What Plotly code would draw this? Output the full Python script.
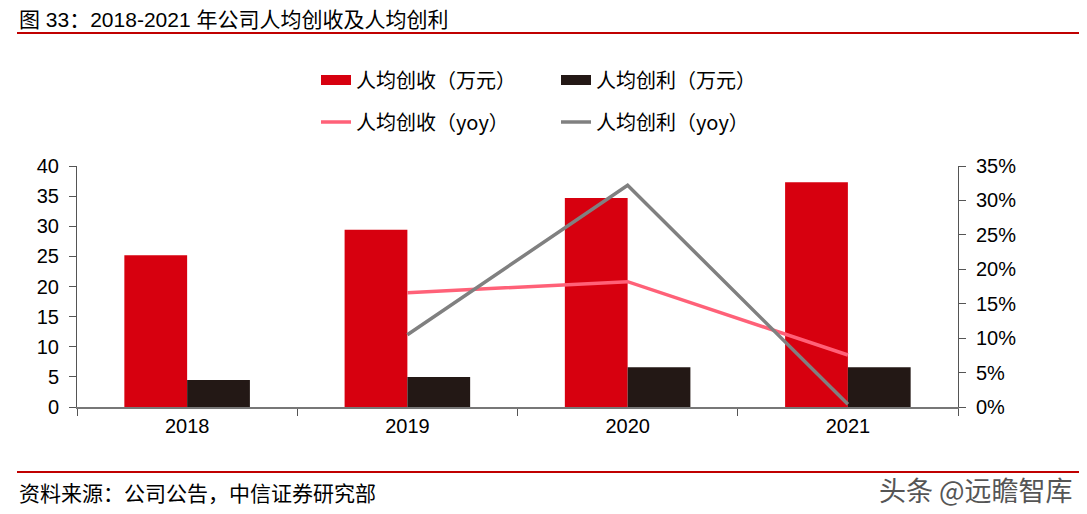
import plotly.graph_objects as go

years = ["2018", "2019", "2020", "2021"]
rev_per_cap = [25.2, 29.4, 34.7, 37.3]        # 人均创收（万元）
profit_per_cap = [4.5, 5.0, 6.6, 6.6]         # 人均创利（万元）
rev_yoy = [None, 0.166, 0.182, 0.0755]        # 人均创收（yoy）
profit_yoy = [None, 0.105, 0.322, 0.004]      # 人均创利（yoy）
left_ticks = [0, 5, 10, 15, 20, 25, 30, 35, 40]
right_ticks = [0, 0.05, 0.10, 0.15, 0.20, 0.25, 0.30, 0.35]

# page body has an 8px margin; figure is placed at (8, 8) in the window
OFF = 8
WIN_W, WIN_H = 1087, 514
PL, PR, PT, PB = 77, 958, 166, 407          # plot area in window pixels
W, H = WIN_W - OFF, WIN_H - OFF
L, R, T, B = PL - OFF, WIN_W - PR, PT - OFF, WIN_H - PB
pw, ph = PR - PL, PB - PT

def px(x):
    return (x - PL) / pw

def py(y):
    return (PB - y) / ph

FONT = "Liberation Sans, Arial, Noto Sans CJK SC, sans-serif"
CJK = "Noto Sans CJK SC, Liberation Sans, sans-serif"
RED, BLACK, PINK, GREY = "#D7000F", "#231815", "#FF6178", "#808080"

fig = go.Figure()
fig.add_trace(go.Bar(x=years, y=rev_per_cap, name="人均创收（万元）", showlegend=False,
                     marker=dict(color=RED, line=dict(width=0))))
fig.add_trace(go.Bar(x=years, y=profit_per_cap, name="人均创利（万元）", showlegend=False,
                     marker=dict(color=BLACK, line=dict(width=0))))
fig.add_trace(go.Scatter(x=years, y=rev_yoy, name="人均创收（yoy）", mode="lines",
                         line=dict(color=PINK, width=3.5), yaxis="y2", legend="legend2"))
fig.add_trace(go.Scatter(x=years, y=profit_yoy, name="人均创利（yoy）", mode="lines",
                         line=dict(color=GREY, width=3.5), yaxis="y2", legend="legend2"))
# legend entries for the bars (wide rectangular swatches)
fig.add_trace(go.Scatter(x=[None], y=[None], name="人均创收（万元）", mode="lines",
                         line=dict(color=RED, width=14), legend="legend"))
fig.add_trace(go.Scatter(x=[None], y=[None], name="人均创利（万元）", mode="lines",
                         line=dict(color=BLACK, width=14), legend="legend"))

axis_common = dict(showgrid=False, zeroline=False, showline=True, linecolor="#555555",
                   linewidth=1, ticks="outside", ticklen=7, tickcolor="#555555",
                   ticklabelstandoff=6,
                   tickfont=dict(family=FONT, size=20, color="#000000"))

legend_common = dict(orientation="h", xanchor="left", yanchor="middle",
                     entrywidth=195, entrywidthmode="pixels",
                     font=dict(family=CJK, size=20, color="#000000"),
                     bgcolor="rgba(0,0,0,0)", traceorder="normal")

fig.update_layout(
    width=W, height=H,
    margin=dict(l=L, r=R, t=T, b=B, pad=0),
    paper_bgcolor="white", plot_bgcolor="white",
    barmode="group", bargap=0.43, bargroupgap=0,
    xaxis=dict(showgrid=False, zeroline=False, showline=True, linecolor="#777777", linewidth=1.5,
               ticks="outside", tickson="boundaries", ticklen=7, tickcolor="#555555",
               tickfont=dict(family=FONT, size=20, color="#000000"),
               range=[-0.5, 3.5]),
    yaxis=dict(range=[0, 40], tickvals=left_ticks, **axis_common),
    yaxis2=dict(range=[0, 0.35], tickvals=right_ticks, tickformat=".0%", overlaying="y",
                side="right", **axis_common),
    legend=dict(x=px(316), y=py(80), **legend_common),
    legend2=dict(x=px(316), y=py(122), **legend_common),
    showlegend=True,
)

# title and decoration lines
fig.add_annotation(text="图 33：2018-2021 年公司人均创收及人均创利", xref="paper", yref="paper",
                   x=px(17), y=py(19), xanchor="left", yanchor="middle", showarrow=False,
                   font=dict(family=FONT, size=21, color="#000000"))
fig.add_shape(type="line", xref="paper", yref="paper", x0=px(17), x1=px(1087),
              y0=py(33), y1=py(33), line=dict(color="#C00000", width=2))
fig.add_shape(type="line", xref="paper", yref="paper", x0=px(17), x1=px(1087),
              y0=py(472), y1=py(472), line=dict(color="#C00000", width=2))
fig.add_annotation(text="资料来源：公司公告，中信证券研究部", xref="paper", yref="paper",
                   x=px(17), y=py(492), xanchor="left", yanchor="middle", showarrow=False,
                   font=dict(family=CJK, size=21, color="#000000"))
fig.add_annotation(text="头条 @远瞻智库", xref="paper", yref="paper",
                   x=px(1075), y=py(489), xanchor="right", yanchor="middle", showarrow=False,
                   font=dict(family=CJK, size=27, color="#555555"))

fig.write_html("out.html")
